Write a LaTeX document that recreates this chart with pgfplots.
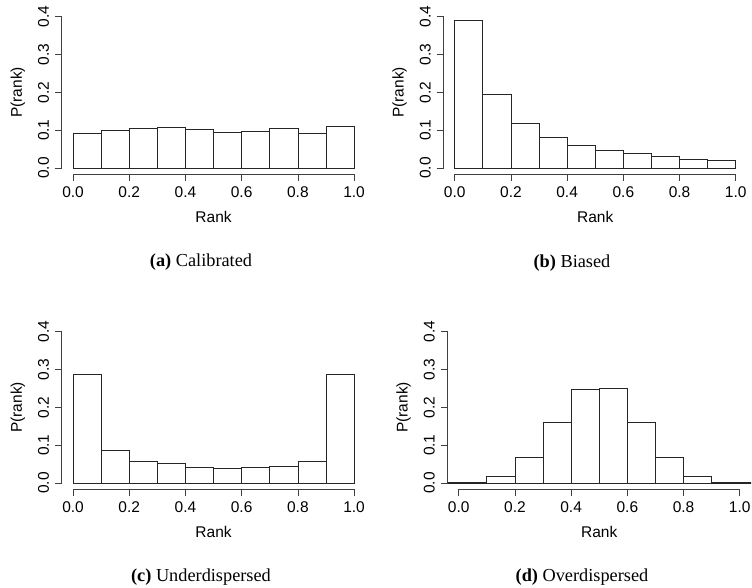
\documentclass[border=0pt]{standalone}
\usepackage{fontspec}
\setmainfont{Liberation Sans}
\newfontfamily\capfont{Liberation Serif}
\usepackage{pgfplots}
\pgfplotsset{compat=1.18}
\pgfplotsset{rpanel/.style={
  anchor=south west, scale only axis, width=303.5pt, height=163.2pt,
  xmin=-0.04, xmax=1.04, ymin=-0.016, ymax=0.416,
  axis x line*=bottom, axis y line*=left,
  x axis line style={shorten <=11.24pt, shorten >=11.24pt, line width=0.7pt, black!75},
  y axis line style={shorten <=6.05pt, shorten >=6.05pt, line width=0.7pt, black!75},
  tick style={line width=0.7pt, black!75},
  tick align=outside, major tick length=7pt,
  xtick={0,0.2,0.4,0.6,0.8,1.0}, xticklabels={0.0,0.2,0.4,0.6,0.8,1.0},
  ytick={0,0.1,0.2,0.3,0.4}, yticklabels={0.0,0.1,0.2,0.3,0.4},
  ticklabel style={font=\fontsize{15.5}{18}\selectfont, inner sep=0pt},
  xticklabel style={anchor=north},
  yticklabel style={rotate=90, anchor=south},
  xticklabel shift=5.5pt, yticklabel shift=5.5pt,
  label style={font=\fontsize{15.5}{18}\selectfont},
  xlabel={Rank}, ylabel={P(rank)},
  xlabel style={at={(axis description cs:0.5,-0.2635)}, anchor=center},
  ylabel style={at={(axis description cs:-0.145,0.5)}, anchor=center, rotate=0},
  clip=true,
}, rbars/.style={ybar interval, fill=white, draw=black!85, line width=0.7pt}}
\begin{document}
\begin{tikzpicture}
\path[use as bounding box] (0pt,0pt) rectangle (752pt,588pt);
% (a) Calibrated
\begin{axis}[rpanel, at={(61.8pt,414pt)}]
\addplot[rbars] coordinates {(0.0,0.0923) (0.1,0.1002) (0.2,0.1055) (0.3,0.1081) (0.4,0.1020) (0.5,0.0949) (0.6,0.0958) (0.7,0.1046) (0.8,0.0923) (0.9,0.1090) (1.0,0)};
\end{axis}
% (b) Biased
\begin{axis}[rpanel, at={(443.5pt,414pt)}]
\addplot[rbars] coordinates {(0.0,0.3895) (0.1,0.1952) (0.2,0.1178) (0.3,0.0800) (0.4,0.0589) (0.5,0.0466) (0.6,0.0396) (0.7,0.0316) (0.8,0.0237) (0.9,0.0202) (1.0,0)};
\end{axis}
% (c) Underdispersed
\begin{axis}[rpanel, at={(61.8pt,99pt)}]
\addplot[rbars] coordinates {(0.0,0.288) (0.1,0.086) (0.2,0.0576) (0.3,0.0506) (0.4,0.0426) (0.5,0.0399) (0.6,0.0426) (0.7,0.0452) (0.8,0.0576) (0.9,0.288) (1.0,0)};
\end{axis}
% (d) Overdispersed
\begin{axis}[rpanel, at={(447.5pt,99pt)}]
\addplot[rbars] coordinates {(-0.1,0.0003) (0.0,0.002) (0.1,0.0186) (0.2,0.0674) (0.3,0.1596) (0.4,0.2466) (0.5,0.2510) (0.6,0.1614) (0.7,0.0674) (0.8,0.0186) (0.9,0.002) (1.0,0.0003) (1.1,0)};
\end{axis}
\node[anchor=base, font=\capfont\fontsize{18.3}{22}\selectfont] at (201pt,321.3pt) {\textbf{(a)} Calibrated};
\node[anchor=base, font=\capfont\fontsize{18.3}{22}\selectfont] at (572pt,320.3pt) {\textbf{(b)} Biased};
\node[anchor=base, font=\capfont\fontsize{18.3}{22}\selectfont] at (201pt,6pt) {\textbf{(c)} Underdispersed};
\node[anchor=base, font=\capfont\fontsize{18.3}{22}\selectfont] at (582pt,6pt) {\textbf{(d)} Overdispersed};
\end{tikzpicture}
\end{document}
